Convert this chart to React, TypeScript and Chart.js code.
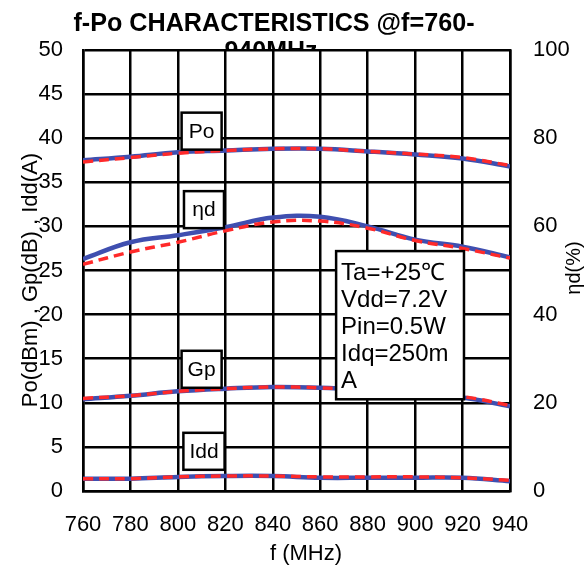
import { useEffect, useRef } from 'react';
import { Chart, registerables } from 'chart.js';
Chart.register(...registerables);

const freqs = [760, 780, 800, 820, 840, 860, 880, 900, 920, 940];
const poBlue = [37.5, 37.9, 38.4, 38.6, 38.8, 38.8, 38.5, 38.15, 37.7, 36.8];
const poRed = [37.3, 37.8, 38.3, 38.6, 38.8, 38.8, 38.5, 38.2, 37.8, 36.9];
const etaBlue = [52.6, 56.4, 58.0, 59.8, 62.0, 62.2, 60.0, 57.0, 55.4, 53.0];
const etaRed = [51.4, 54.2, 56.4, 59.0, 61.0, 61.2, 59.6, 56.8, 55.0, 52.8];
const gpBlue = [10.4, 10.8, 11.3, 11.6, 11.8, 11.7, 11.4, 11.0, 10.6, 9.6];
const gpRed = [10.5, 10.8, 11.3, 11.6, 11.8, 11.7, 11.4, 11.0, 10.7, 9.7];
const iddBlue = [1.4, 1.4, 1.6, 1.7, 1.7, 1.5, 1.5, 1.5, 1.5, 1.1];
const iddRed = [1.4, 1.4, 1.6, 1.7, 1.7, 1.6, 1.6, 1.6, 1.5, 1.2];

const titleLines = ['f-Po CHARACTERISTICS @f=760-', '940MHz'];
const leftTitle = 'Po(dBm) , Gp(dB) , Idd(A)';
const rightTitle = 'ηd(%)';
const xTitle = 'f (MHz)';
const seriesLabels = ['Po', 'ηd', 'Gp', 'Idd'];
const seriesLabelX = [810, 811, 810, 811];
const seriesLabelY = [40.8, 31.9, 13.8, 4.5];
const noteLines = ['Ta=+25℃', 'Vdd=7.2V', 'Pin=0.5W', 'Idq=250m', 'A'];

const BLUE = '#3f4fb0';
const RED = '#ff2a2a';
const FONT = '"Liberation Sans", Arial, sans-serif';

const pts = (arr: number[]) => freqs.map((f, i) => ({ x: f, y: arr[i] }));

export default function App() {
  const ref = useRef<HTMLCanvasElement | null>(null);
  useEffect(() => {
    if (!ref.current) return;
    const textPlugin = {
      id: 'texts',
      beforeDraw(chart: any) {
        const ctx = chart.ctx;
        const ca = chart.chartArea;
        ctx.save();
        ctx.fillStyle = '#fff';
        ctx.fillRect(0, 0, chart.width, chart.height);
        ctx.fillStyle = '#000';
        ctx.font = `bold 25px ${FONT}`;
        ctx.textBaseline = 'middle';
        ctx.textAlign = 'center';
        const w1 = ctx.measureText(titleLines[0]).width;
        ctx.save();
        ctx.translate(274, 24);
        ctx.scale(401 / w1, 1);
        ctx.fillText(titleLines[0], 0, 0);
        ctx.restore();
        ctx.fillText(titleLines[1], 271, 52);
        ctx.fillStyle = '#fff';
        ctx.fillRect(ca.left, ca.top, ca.right - ca.left, ca.bottom - ca.top);
        ctx.restore();
      },
      afterDatasetsDraw(chart: any) {
        const ctx = chart.ctx;
        const xs = chart.scales.x;
        const ys = chart.scales.y;
        ctx.save();
        ctx.fillStyle = '#000';
        ctx.textAlign = 'center';
        ctx.textBaseline = 'middle';
        ctx.font = `22px ${FONT}`;
        ctx.save();
        ctx.translate(31, 280);
        ctx.rotate(-Math.PI / 2);
        ctx.fillText(leftTitle, 0, 0);
        ctx.restore();
        ctx.font = `20px ${FONT}`;
        ctx.save();
        ctx.translate(574, 268);
        ctx.rotate(-Math.PI / 2);
        ctx.fillText(rightTitle, 0, 0);
        ctx.restore();
        ctx.font = `22px ${FONT}`;
        ctx.fillText(xTitle, 306, 554);
        ctx.font = `21px ${FONT}`;
        ctx.lineWidth = 2.5;
        seriesLabels.forEach((lab, i) => {
          const cx = xs.getPixelForValue(seriesLabelX[i]);
          const cy = ys.getPixelForValue(seriesLabelY[i]);
          const w = Math.max(40, ctx.measureText(lab).width + 12);
          const h = 37;
          ctx.fillStyle = '#fff';
          ctx.fillRect(cx - w / 2, cy - h / 2, w, h);
          ctx.strokeStyle = '#000';
          ctx.strokeRect(cx - w / 2, cy - h / 2, w, h);
          ctx.fillStyle = '#000';
          ctx.fillText(lab, cx, cy + 1);
        });
        const l = xs.getPixelForValue(866.7);
        const r = xs.getPixelForValue(920.6);
        const t = ys.getPixelForValue(27.2);
        const b = ys.getPixelForValue(10.4);
        ctx.fillStyle = '#fff';
        ctx.fillRect(l, t, r - l, b - t);
        ctx.strokeStyle = '#000';
        ctx.lineWidth = 2.5;
        ctx.strokeRect(l, t, r - l, b - t);
        ctx.fillStyle = '#000';
        ctx.textAlign = 'left';
        ctx.font = `24px ${FONT}`;
        noteLines.forEach((s, i) => {
          ctx.fillText(s, l + 5, t + 22 + i * 27);
        });
        ctx.restore();
      },
    };

    const mk = (label: string, arr: number[], color: string, dashed: boolean, axis: string) => ({
      label,
      data: pts(arr),
      borderColor: color,
      backgroundColor: color,
      borderWidth: dashed ? 3.5 : 4.5,
      borderDash: dashed ? [10, 6] : [],
      pointRadius: 0,
      tension: 0.4,
      yAxisID: axis,
      fill: false,
    });

    const grid = { color: '#000', lineWidth: 2.5, drawTicks: false };
    const border = { color: '#000', width: 2.5 };
    const tickFont = { family: FONT, size: 22 };

    const chart = new Chart(ref.current, {
      type: 'line',
      data: {
        datasets: [
          mk('Po red', poRed, RED, true, 'y'),
          mk('eta red', etaRed, RED, true, 'y2'),
          mk('Gp red', gpRed, RED, true, 'y'),
          mk('Idd red', iddRed, RED, true, 'y'),
          mk('Po blue', poBlue, BLUE, false, 'y'),
          mk('eta blue', etaBlue, BLUE, false, 'y2'),
          mk('Gp blue', gpBlue, BLUE, false, 'y'),
          mk('Idd blue', iddBlue, BLUE, false, 'y'),
        ],
      },
      options: {
        responsive: false,
        animation: false,
        layout: { padding: { top: 50, left: 0, right: 0, bottom: 0 } },
        plugins: { legend: { display: false }, tooltip: { enabled: false }, title: { display: false } },
        scales: {
          x: {
            type: 'linear',
            min: 760,
            max: 940,
            grid,
            border,
            ticks: { stepSize: 20, color: '#000', font: tickFont, padding: 21, maxRotation: 0, autoSkip: false },
            afterFit: (s: any) => { s.height = 78; },
          },
          y: {
            position: 'left',
            min: 0,
            max: 50,
            grid,
            border,
            ticks: { stepSize: 5, color: '#000', font: tickFont, padding: 20 },
            afterFit: (s: any) => { s.width = 83; },
          },
          y2: {
            position: 'right',
            min: 0,
            max: 100,
            grid: { display: false, drawTicks: false },
            border,
            ticks: { stepSize: 20, color: '#000', font: tickFont, padding: 23 },
            afterFit: (s: any) => { s.width = 78; },
          },
        },
      },
      plugins: [textPlugin],
    } as any);
    return () => chart.destroy();
  }, []);
  return (
    <div style={{ position: 'fixed', left: 0, top: 0, width: 588, height: 569, background: '#fff' }}>
      <canvas ref={ref} width={588} height={569} style={{ width: 588, height: 569, display: 'block' }} />
    </div>
  );
}
